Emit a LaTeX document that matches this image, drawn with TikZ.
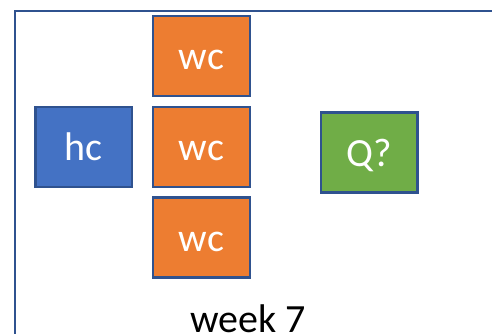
\documentclass[tikz,border=0pt]{standalone}
\usepackage{fontspec}
\setmainfont{Carlito}
\usetikzlibrary{positioning}
\definecolor{edgeblue}{HTML}{2F528F}
\definecolor{hcblue}{HTML}{4472C4}
\definecolor{wcorange}{HTML}{ED7D31}
\definecolor{qgreen}{HTML}{70AD47}
\tikzset{
  card/.style={draw=edgeblue, line width=2.2pt, minimum width=96.5pt, minimum height=80pt,
    inner sep=0pt, text height=27pt, text depth=0pt, text=white, font=\fontsize{40}{48}\selectfont},
  hccard/.style={card, fill=hcblue},
  wccard/.style={card, fill=wcorange},
  qcard/.style={card, fill=qgreen},
}
\begin{document}
\begin{tikzpicture}[x=1pt, y=-1pt, node distance=8.5pt]
\useasboundingbox (0,0) rectangle (492,333);
\draw[edgeblue, line width=2.5pt] (15,11) rectangle (530,370);
\node[hccard] (hc) at (83.8,147) {hc};
\node[wccard] (wc2) at (201.5,146.8) {wc};
\node[wccard, above=of wc2] (wc1) {wc};
\node[wccard, below=of wc2] (wc3) {wc};
\node[qcard] (q) at (369.2,152.5) {Q?};
\node[anchor=base, inner sep=0pt, font=\fontsize{40}{48}\selectfont] (week) at (248,332.5) {week 7};
\end{tikzpicture}
\end{document}
